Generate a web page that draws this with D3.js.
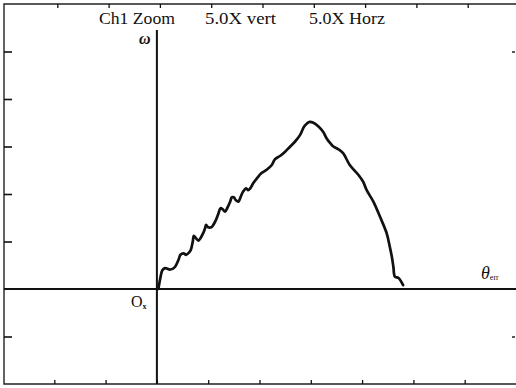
<!DOCTYPE html>
<html>
<head>
<meta charset="utf-8">
<script src="https://cdn.jsdelivr.net/npm/d3@7"></script>
<style>
  html, body { margin: 0; padding: 0; background: #fff; }
  svg { display: block; }
  text { font-family: "Liberation Serif", "Times New Roman", serif; fill: #111; }
</style>
</head>
<body>
<svg id="chart" width="516" height="388"></svg>
<script>
// Phase-plane trace: tracking error (divisions) vs. rate (divisions)
const thetaErr = [0.01, 0.04, 0.09, 0.14, 0.24, 0.33, 0.40, 0.44, 0.50, 0.55, 0.59, 0.64, 0.68, 0.70,
  0.74, 0.79, 0.83, 0.88, 0.92, 0.94, 0.98, 1.04, 1.08, 1.13, 1.18, 1.22, 1.26, 1.31, 1.35, 1.41,
  1.44, 1.48, 1.52, 1.57, 1.61, 1.66, 1.72, 1.76, 1.80, 1.86, 1.93, 2.02, 2.12, 2.22, 2.28, 2.38,
  2.48, 2.57, 2.67, 2.77, 2.85, 2.91, 2.96, 3.03, 3.13, 3.22, 3.29, 3.36, 3.42, 3.52, 3.61, 3.74,
  3.91, 4.00, 4.07, 4.20, 4.33, 4.46, 4.52, 4.56, 4.59, 4.62, 4.69, 4.78];
const omega = [0.00, 0.19, 0.40, 0.44, 0.41, 0.46, 0.61, 0.72, 0.75, 0.72, 0.75, 0.82, 1.00, 1.12,
  1.07, 1.02, 1.07, 1.17, 1.28, 1.35, 1.30, 1.30, 1.35, 1.45, 1.59, 1.70, 1.68, 1.63, 1.70, 1.84,
  1.93, 1.93, 1.87, 1.84, 1.93, 2.05, 2.12, 2.08, 2.12, 2.23, 2.33, 2.44, 2.51, 2.61, 2.73, 2.80,
  2.89, 2.99, 3.10, 3.24, 3.42, 3.49, 3.52, 3.50, 3.42, 3.31, 3.17, 3.07, 3.00, 2.94, 2.86, 2.61,
  2.40, 2.26, 2.08, 1.84, 1.52, 1.17, 0.89, 0.68, 0.47, 0.26, 0.23, 0.08];

// Graticule divisions
const xTicks = [-2, -1, 0, 1, 2, 3, 4, 5, 6];
const yTicks = [-1, 0, 1, 2, 3, 4, 5];
const headerLabels = ["Ch1 Zoom", "5.0X vert", "5.0X Horz"];

const svg = d3.select("#chart");
const x = d3.scaleLinear().domain([-3, 7]).range([4, 517]);
const y = d3.scaleLinear().domain([-2, 6]).range([384, 4]);

const ink = "#111";

// Frame
svg.append("path")
  .attr("d", `M${x(7)},${y(6)} H${x(-3)} V${y(-2)} H${x(7)}`)
  .attr("fill", "none").attr("stroke", "#222").attr("stroke-width", 1.4);

// Left ticks
const leftAxis = d3.axisRight(y).tickValues(yTicks.filter(v => v !== 0)).tickSize(8).tickFormat("");
svg.append("g").attr("transform", `translate(${x(-3)},0)`).call(leftAxis)
  .call(g => g.select(".domain").remove())
  .selectAll("line").attr("stroke", ink).attr("stroke-width", 1.6);

// Right ticks
const rightAxis = d3.axisLeft(y).tickValues([5, -1]).tickSize(3).tickFormat("");
svg.append("g").attr("transform", `translate(515,0)`).call(rightAxis)
  .call(g => g.select(".domain").remove())
  .selectAll("line").attr("stroke", ink).attr("stroke-width", 1.4);

// Top ticks
const topAxis = d3.axisBottom(x).tickValues(xTicks).tickSize(4).tickFormat("");
svg.append("g").attr("transform", `translate(2,${y(6)})`).call(topAxis)
  .call(g => g.select(".domain").remove())
  .selectAll("line").attr("stroke", ink).attr("stroke-width", 1.3);

// Bottom ticks
const bottomAxis = d3.axisTop(x).tickValues(xTicks).tickSize(4).tickFormat("");
svg.append("g").attr("transform", `translate(-1,${y(-2)})`).call(bottomAxis)
  .call(g => g.select(".domain").remove())
  .selectAll("line").attr("stroke", ink).attr("stroke-width", 1.3);

// Horizontal axis (theta_err)
svg.append("line")
  .attr("x1", x(-3)).attr("x2", 516).attr("y1", y(0)).attr("y2", y(0))
  .attr("stroke", ink).attr("stroke-width", 2);

// Vertical axis (omega)
svg.append("line")
  .attr("x1", x(0) - 1).attr("x2", x(0) - 1).attr("y1", 30).attr("y2", y(-2))
  .attr("stroke", ink).attr("stroke-width", 2);

// Trace
const pts = thetaErr.map((v, i) => [v, omega[i]]);
svg.append("path")
  .datum(pts)
  .attr("d", d3.line().x(d => x(d[0])).y(d => y(d[1])).curve(d3.curveCatmullRom.alpha(0.5)))
  .attr("fill", "none").attr("stroke", ink).attr("stroke-width", 2.7)
  .attr("stroke-linejoin", "round").attr("stroke-linecap", "round");

// Header
const headerX = [99, 205, 309];
const headerW = [76, 71, 76];
svg.selectAll("text.hdr").data(headerLabels).join("text")
  .attr("class", "hdr")
  .attr("x", (d, i) => headerX[i]).attr("y", 24)
  .attr("textLength", (d, i) => headerW[i]).attr("lengthAdjust", "spacingAndGlyphs")
  .attr("font-size", 16)
  .text(d => d);

// Axis labels
svg.append("text").attr("x", 139).attr("y", 44)
  .attr("font-size", 16).attr("font-style", "italic").attr("font-weight", "bold")
  .text("ω");

const th = svg.append("text").attr("x", 481).attr("y", 279)
  .attr("font-size", 18).attr("font-style", "italic");
th.append("tspan").text("θ");
th.append("tspan").attr("font-size", 8).attr("font-style", "normal").attr("dy", 1).text("err");

const ox = svg.append("text").attr("x", 131).attr("y", 307).attr("font-size", 16);
ox.append("tspan").text("O");
ox.append("tspan").attr("font-size", 8).attr("font-weight", "bold").attr("dy", 2).text("x");
</script>
</body>
</html>
